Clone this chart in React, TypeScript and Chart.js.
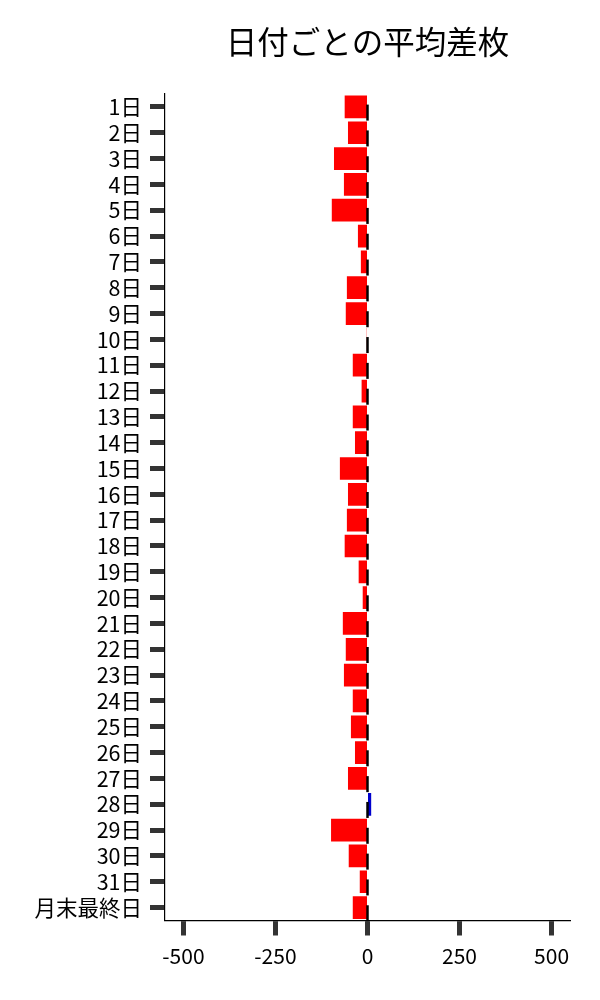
import React, { useEffect, useRef } from 'react';
import { Chart, registerables } from 'chart.js';

Chart.register(...registerables);

const days = [
  '1日', '2日', '3日', '4日', '5日', '6日', '7日', '8日', '9日', '10日',
  '11日', '12日', '13日', '14日', '15日', '16日', '17日', '18日', '19日', '20日',
  '21日', '22日', '23日', '24日', '25日', '26日', '27日', '28日', '29日', '30日',
  '31日', '月末最終日',
];
const avgDiff = [
  -62, -53, -91, -64, -97, -26, -18, -56, -59, -2,
  -40, -16, -40, -34, -75, -53, -56, -62, -24, -13,
  -67, -59, -64, -40, -45, -34, -53, 10, -99, -51,
  -21, -40,
];
// small black marks (error bars) sitting at zero for every day
const ciMarks = days.map(() => 0);
const xTicks = [-500, -250, 0, 250, 500];

const TITLE = '日付ごとの平均差枚';
const FONT = "'Noto Sans CJK JP', 'Noto Sans', sans-serif";

const App = () => {
  const chartRef = useRef<HTMLCanvasElement | null>(null);
  const chartInstance = useRef<Chart | null>(null);

  useEffect(() => {
    if (!chartRef.current) return;
    if (chartInstance.current) chartInstance.current.destroy();

    const extras = {
      id: 'extras',
      afterDatasetsDraw(chart: any) {
        const { ctx, scales } = chart;
        const x = scales.x;
        const y = scales.y;
        const band = y.getPixelForValue(1) - y.getPixelForValue(0);
        ctx.save();
        ctx.strokeStyle = '#000';
        ctx.lineWidth = 2.5;
        ciMarks.forEach((v, i) => {
          const px = x.getPixelForValue(v);
          const py = y.getPixelForValue(i);
          ctx.beginPath();
          ctx.moveTo(px, py - band * 0.09);
          ctx.lineTo(px, py + band * 0.53);
          ctx.stroke();
        });
        ctx.restore();
      },
      afterDraw(chart: any) {
        const { ctx, chartArea } = chart;
        ctx.save();
        ctx.fillStyle = '#000';
        ctx.font = `31.5px ${FONT}`;
        ctx.textAlign = 'center';
        ctx.textBaseline = 'middle';
        ctx.fillText(TITLE, (chartArea.left + chartArea.right) / 2, 34);
        ctx.restore();
      },
    };

    chartInstance.current = new Chart(chartRef.current, {
      type: 'bar',
      data: {
        labels: days,
        datasets: [
          {
            data: avgDiff,
            backgroundColor: avgDiff.map((v) => (v < 0 ? '#ff0000' : '#0000cd')),
            barPercentage: 0.88,
            categoryPercentage: 1,
          },
        ],
      },
      options: {
        indexAxis: 'y',
        animation: false,
        responsive: true,
        maintainAspectRatio: false,
        layout: { padding: { top: 86, right: 22, left: 0, bottom: 0 } },
        plugins: {
          legend: { display: false },
          title: { display: false },
          tooltip: { enabled: false },
        },
        scales: {
          x: {
            min: -550,
            max: 550,
            afterBuildTicks: (scale: any) => {
              scale.ticks = xTicks.map((v) => ({ value: v }));
            },
            afterFit: (scale: any) => {
              scale.height = 71.5;
            },
            grid: {
              drawOnChartArea: false,
              tickLength: 15,
              tickWidth: 5,
              tickColor: '#333',
            },
            border: { display: true, color: '#000', width: 1.2 },
            ticks: {
              color: '#000',
              padding: 8,
              font: { family: FONT, size: 21 },
            },
          },
          y: {
            offset: true,
            afterFit: (scale: any) => {
              scale.width = 157;
            },
            grid: {
              offset: false,
              drawOnChartArea: false,
              tickLength: 15,
              tickWidth: 5,
              tickColor: '#333',
            },
            border: { display: true, color: '#000', width: 1.2 },
            ticks: {
              color: '#000',
              padding: 8,
              autoSkip: false,
              font: { family: FONT, size: 21.5 },
            },
          },
        },
      },
      plugins: [extras],
    });

    return () => {
      if (chartInstance.current) {
        chartInstance.current.destroy();
        chartInstance.current = null;
      }
    };
  }, []);

  return (
    <div style={{ position: 'relative', width: 584, height: 984 }}>
      <canvas ref={chartRef} />
    </div>
  );
};

export default App;
